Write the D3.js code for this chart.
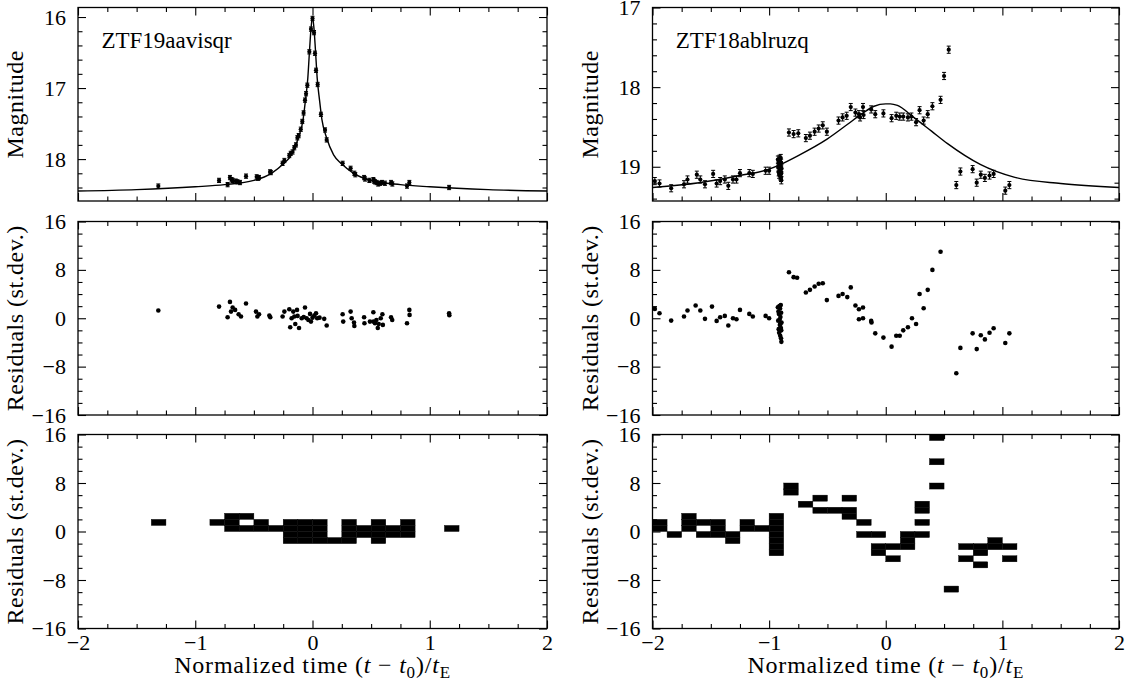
<!DOCTYPE html>
<html>
<head>
<meta charset="utf-8">
<script src="https://cdn.jsdelivr.net/npm/d3@7"></script>
<style>
  body { margin: 0; background: #fff; }
</style>
</head>
<body>
<div id="chart-area"></div>
<script>
// ---------------- data ----------------

let leftName = "ZTF19aavisqr";
let rightName = "ZTF18ablruzq";

let timeTicks = [-2, -1, 0, 1, 2];
let magTicksLeft = [16, 17, 18];
let magTicksRight = [17, 18, 19];
let resTicks = [-16, -8, 0, 8, 16];

// ZTF19aavisqr photometry
let leftT = [-1.315, -0.797, -0.724, -0.704, -0.69, -0.681, -0.655, -0.64, -0.618, -0.567,
  -0.476, -0.465, -0.456, -0.362, -0.355, -0.255, -0.24, -0.198, -0.186, -0.17,
  -0.155, -0.141, -0.129, -0.118, -0.1, -0.087, -0.076, -0.064, -0.055, -0.044,
  -0.027, -0.013, 0.0, 0.013, 0.021, 0.03, 0.044, 0.072, 0.107, 0.121,
  0.257, 0.325, 0.357, 0.365, 0.44, 0.448, 0.485, 0.519, 0.525, 0.533,
  0.547, 0.56, 0.576, 0.593, 0.618, 0.67, 0.681, 0.806, 0.826, 1.165];
let leftMag = [18.38, 18.30, 18.36, 18.26, 18.29, 18.30, 18.31, 18.32, 18.33, 18.24,
  18.25, 18.27, 18.26, 18.18, 18.19, 18.06, 18.02, 17.95, 17.92, 17.90,
  17.84, 17.80, 17.70, 17.67, 17.58, 17.47, 17.35, 17.17, 17.08, 16.96,
  16.49, 16.17, 16.02, 16.22, 16.51, 16.75, 16.95, 17.37, 17.59, 17.73,
  18.06, 18.13, 18.20, 18.22, 18.26, 18.28, 18.30, 18.29, 18.31, 18.32,
  18.33, 18.35, 18.34, 18.33, 18.34, 18.33, 18.35, 18.38, 18.33, 18.40];
let leftErr = 0.03;

// ZTF19aavisqr model curve
let leftModelT = [-2, -1.5, -1.0, -0.75, -0.5, -0.35, -0.25, -0.18, -0.12, -0.08, -0.06, -0.04, -0.025, -0.012, 0,
  0.012, 0.025, 0.04, 0.06, 0.08, 0.12, 0.18, 0.25, 0.35, 0.5, 0.75, 1.0, 1.5, 2];
let leftModelMag = [18.45, 18.43, 18.39, 18.36, 18.30, 18.20, 18.07, 17.94, 17.70, 17.44, 17.17, 16.86, 16.46, 16.15, 16.0,
  16.15, 16.46, 16.86, 17.17, 17.44, 17.70, 17.94, 18.07, 18.20, 18.30, 18.36, 18.39, 18.43, 18.45];

// ZTF19aavisqr residuals
let leftResT = [-1.315, -0.797, -0.724, -0.704, -0.695, -0.681, -0.66, -0.63, -0.61, -0.567,
  -0.482, -0.47, -0.456, -0.368, -0.36, -0.255, -0.24, -0.198, -0.19, -0.178,
  -0.164, -0.155, -0.147, -0.132, -0.127, -0.115, -0.092, -0.075, -0.064, -0.05,
  -0.035, -0.021, -0.013, 0.0, 0.015, 0.03, 0.04, 0.06, 0.1, 0.121,
  0.257, 0.262, 0.325, 0.334, 0.354, 0.357, 0.44, 0.443, 0.49, 0.519,
  0.52, 0.533, 0.545, 0.557, 0.565, 0.582, 0.596, 0.6, 0.67, 0.68,
  0.806, 0.826, 0.828, 1.165, 1.167];
let leftRes = [1.27, 1.93, 0.17, 2.7, 1.1, 1.77, 1.38, 0.66, 0.28, 2.43,
  1.1, 0.28, 0.66, 0.44, 0.17, 0.28, 1.1, 1.5, -1.5, 0.0,
  1.1, 0.28, -0.94, 1.38, 0.39, -1.6, 0.0, 0.2, 1.77, 0.0,
  -0.3, 0.72, -0.55, 0.1, 0.44, 0.83, 0.0, 0.1, -0.1, -1.2,
  0.66, -0.55, 1.1, 0.0, -0.72, -1.27, 0.17, -0.83, -0.55, 1.0,
  -0.55, -0.83, -0.28, -1.6, -0.94, 0.0, 0.66, -1.1, 0.17, -0.28,
  -0.83, 1.38, 0.55, 0.83, 0.5];

// ZTF19aavisqr binned residuals: bin start in time (width 0.125), bin start in residual (width 1)
let leftBinT = [-1.375, -0.875, -0.75, -0.75, -0.75, -0.625, -0.625, -0.5, -0.5, -0.375,
  -0.25, -0.25, -0.25, -0.25, -0.125, -0.125, -0.125, -0.125, 0, 0, 0, 0, 0.125,
  0.25, 0.25, 0.25, 0.25, 0.375, 0.375, 0.5, 0.5, 0.5, 0.5, 0.625, 0.625, 0.75, 0.75, 0.75, 1.125];
let leftBinR = [1, 1, 0, 1, 2, 0, 2, 0, 1, 0,
  -2, -1, 0, 1, -2, -1, 0, 1, -2, -1, 0, 1, -2,
  -2, -1, 0, 1, -1, 0, -2, -1, 0, 1, -1, 0, -1, 0, 1, 0];

// ZTF18ablruzq photometry
let rightT = [-1.98, -1.94, -1.84, -1.73, -1.70, -1.62, -1.59, -1.55, -1.48, -1.45,
  -1.42, -1.38, -1.35, -1.31, -1.28, -1.25, -1.17, -1.14, -1.03, -1.00,
  -0.925, -0.922, -0.92, -0.918, -0.916, -0.914, -0.912, -0.91, -0.908, -0.906,
  -0.905, -0.903, -0.902, -0.9, -0.899, -0.898, -0.897, -0.896, -0.895, -0.894,
  -0.83, -0.79, -0.75, -0.685, -0.65, -0.61, -0.575, -0.54, -0.505, -0.405,
  -0.37, -0.335, -0.30, -0.26, -0.23, -0.22, -0.195, -0.19, -0.125, -0.09, -0.02,
  0.05, 0.09, 0.12, 0.15, 0.19, 0.22, 0.26, 0.29, 0.325, 0.36,
  0.40, 0.47, 0.50, 0.54, 0.605, 0.64, 0.745, 0.78, 0.815, 0.85,
  0.89, 0.925, 1.025, 1.06];
let rightMag = [19.18, 19.21, 19.27, 19.22, 19.16, 19.10, 19.16, 19.22, 19.09, 19.21,
  19.18, 19.16, 19.24, 19.16, 19.16, 19.08, 19.08, 19.09, 19.05, 19.05,
  18.91, 19.01, 18.94, 19.07, 18.96, 19.10, 18.90, 19.00, 19.04, 18.92,
  19.12, 18.98, 19.03, 18.89, 19.06, 19.14, 18.95, 19.08, 19.17, 19.02,
  18.57, 18.59, 18.58, 18.64, 18.61, 18.56, 18.52, 18.48, 18.56, 18.42,
  18.38, 18.36, 18.25, 18.32, 18.34, 18.38, 18.25, 18.35, 18.28, 18.34, 18.33,
  18.39, 18.36, 18.37, 18.37, 18.38, 18.37, 18.44, 18.29, 18.42, 18.34,
  18.24, 18.16, 17.86, 17.53, 19.23, 19.06, 19.03, 19.20, 19.10, 19.14,
  19.11, 19.09, 19.30, 19.23];
let rightErr = 0.045;

// ZTF18ablruzq model curve
let rightModelT = [-2, -1.6, -1.25, -1.0, -0.9, -0.75, -0.5, -0.33, -0.2, -0.1, 0.0, 0.04, 0.1, 0.24, 0.39, 0.53, 0.81, 1.1, 1.5, 2.0];
let rightModelMag = [19.26, 19.20, 19.11, 19.03, 18.97, 18.86, 18.65, 18.47, 18.33, 18.24, 18.21, 18.21, 18.23, 18.38, 18.55, 18.71, 18.97, 19.13, 19.21, 19.26];

// ZTF18ablruzq residuals
let rightResT = [-1.98, -1.94, -1.84, -1.73, -1.70, -1.63, -1.59, -1.55, -1.49, -1.45,
  -1.42, -1.38, -1.35, -1.31, -1.28, -1.25, -1.17, -1.14, -1.03, -1.00,
  -0.925, -0.922, -0.92, -0.918, -0.916, -0.914, -0.912, -0.91, -0.908, -0.906,
  -0.905, -0.903, -0.902, -0.9, -0.899, -0.898, -0.897, -0.896, -0.895, -0.894,
  -0.83, -0.79, -0.76, -0.685, -0.65, -0.61, -0.575, -0.54, -0.505, -0.405,
  -0.37, -0.33, -0.30, -0.26, -0.23, -0.23, -0.195, -0.195, -0.125, -0.122, -0.09, -0.02,
  0.05, 0.09, 0.12, 0.15, 0.19, 0.225, 0.26, 0.29, 0.325, 0.36,
  0.40, 0.47, 0.605, 0.64, 0.745, 0.78, 0.815, 0.85, 0.89, 0.925,
  1.025, 1.06];
let rightRes = [1.55, 0.83, -0.39, 0.28, 1.27, 2.1, 1.27, -0.1, 1.93, -0.44,
  0.17, 0.39, -1.2, 0.0, -0.17, 1.38, 0.72, 0.28, 0.39, 0.0,
  1.8, -0.4, 1.1, -1.8, 0.7, -2.4, 2.0, -0.2, -1.1, 1.6,
  -2.9, 0.2, -0.9, 2.2, -1.6, -3.3, 0.9, -2.0, -3.9, -0.7,
  7.6, 6.8, 6.7, 4.25, 4.7, 5.25, 5.7, 5.8, 3.0, 3.7,
  4.0, 3.5, 5.1, 2.1, 1.5, -0.17, 1.77, 0.0, -0.44, -0.7, -2.5, -3.2,
  -4.7, -2.9, -2.9, -2.0, -1.5, 0.0, -0.94, 4.0, 1.66, 4.7,
  8.0, 11.0, -9.1, -4.9, -2.5, -5.1, -2.8, -3.5, -2.4, -1.66,
  -4.1, -2.5];

// ZTF18ablruzq binned residuals
let rightBinT = [-2, -2, -1.875, -1.75, -1.75, -1.75, -1.625, -1.625, -1.5, -1.5, -1.5,
  -1.375, -1.375, -1.25, -1.25, -1.125, -1, -1, -1, -1, -1, -1, -1,
  -0.875, -0.875, -0.75, -0.625, -0.625, -0.5, -0.375, -0.375, -0.375,
  -0.25, -0.25, -0.125, -0.125, -0.125, 0, 0, 0.125, 0.125, 0.125,
  0.25, 0.25, 0.25, 0.25, 0.375, 0.375, 0.375, 0.5, 0.625, 0.625,
  0.75, 0.75, 0.75, 0.875, 0.875, 1, 1];
let rightBinR = [0, 1, -1, 0, 1, 2, 1, -1, 1, 0, -1,
  -1, -2, 0, 1, 0, -4, -3, -2, -1, 0, 1, 2,
  6, 7, 4, 5, 3, 3, 5, 3, 2,
  1, -1, -1, -3, -4, -3, -5, -1, -2, -3,
  4, 3, 1, -1, 15, 11, 7, -10, -3, -5,
  -3, -4, -6, -2, -3, -3, -5];

let tBinWidth = 0.125;
let rBinWidth = 1;

// ---------------- layout ----------------

let serifFont = "'Liberation Serif'";
let fs = 22;       // tick labels
let fsTitle = 24;  // axis titles

let svg = d3.select("#chart-area")
  .append("svg")
  .attr("width", 1125)
  .attr("height", 690);

let colX = [[78, 547], [652.5, 1119]];
let rowY = [[7.5, 201], [221.5, 415], [434.5, 628.5]];

function makePanel(col, row) {
  let w = colX[col][1] - colX[col][0];
  let h = rowY[row][1] - rowY[row][0];
  let g = svg.append("g")
    .attr("transform", "translate(" + colX[col][0] + "," + rowY[row][0] + ")");
  let x = d3.scaleLinear().domain([-2, 2]).range([0, w]);
  return {g: g, w: w, h: h, x: x};
}

function minorOf(lo, hi, step, major) {
  return d3.range(lo, hi + step / 2, step)
    .map(v => +v.toFixed(4))
    .filter(v => major.indexOf(v) < 0);
}

function drawAxes(p, y, yMajor, yMinor, showX) {
  let g = p.g, w = p.w, h = p.h, x = p.x;
  let xMinor = minorOf(-2, 2, 0.25, timeTicks);
  let defs = [
    [d3.axisBottom(x).tickValues(timeTicks).tickSize(-8).tickPadding(6)
      .tickFormat(showX ? d3.format("d") : ""), "translate(0," + h + ")"],
    [d3.axisBottom(x).tickValues(xMinor).tickSize(-4.5).tickFormat(""), "translate(0," + h + ")"],
    [d3.axisTop(x).tickValues(timeTicks).tickSize(-8).tickFormat(""), null],
    [d3.axisTop(x).tickValues(xMinor).tickSize(-4.5).tickFormat(""), null],
    [d3.axisLeft(y).tickValues(yMajor).tickSize(-8).tickPadding(12).tickFormat(d3.format("d")), null],
    [d3.axisLeft(y).tickValues(yMinor).tickSize(-4.5).tickFormat(""), null],
    [d3.axisRight(y).tickValues(yMajor).tickSize(-8).tickFormat(""), "translate(" + w + ",0)"],
    [d3.axisRight(y).tickValues(yMinor).tickSize(-4.5).tickFormat(""), "translate(" + w + ",0)"]
  ];
  defs.forEach(function(d) {
    let a = g.append("g").call(d[0]);
    if (d[1]) a.attr("transform", d[1]);
    a.attr("font-family", "Liberation Serif").attr("font-size", fs);
    a.select(".domain").remove();
    a.selectAll(".tick line").attr("stroke", "#000").attr("stroke-width", 1.1);
    a.selectAll(".tick text")
      .attr("fill", "#000")
      .style("font-family", serifFont)
      .style("font-size", fs + "px");
  });
  g.append("rect")
    .attr("width", w)
    .attr("height", h)
    .attr("fill", "none")
    .attr("stroke", "#000")
    .attr("stroke-width", 1.3);
}

function yTitle(col, row, txt) {
  let yc = (rowY[row][0] + rowY[row][1]) / 2;
  svg.append("text")
    .attr("transform", "translate(" + (colX[col][0] - 55) + "," + yc + ") rotate(-90)")
    .attr("text-anchor", "middle")
    .style("font-family", serifFont)
    .style("font-size", fsTitle + "px")
    .style("letter-spacing", "0.5px")
    .text(txt);
}

function xTitle(col) {
  let xc = (colX[col][0] + colX[col][1]) / 2;
  let t = svg.append("text")
    .attr("x", xc)
    .attr("y", 673)
    .attr("text-anchor", "middle")
    .style("font-family", serifFont)
    .style("font-size", fsTitle + "px")
    .style("letter-spacing", "0.8px");
  t.append("tspan").text("Normalized time (");
  t.append("tspan").style("font-style", "italic").text("t");
  t.append("tspan").text(" \u2212 ");
  t.append("tspan").style("font-style", "italic").text("t");
  t.append("tspan").style("font-size", "17px").attr("dy", 5).text("0");
  t.append("tspan").attr("dy", -5).text(")/");
  t.append("tspan").style("font-style", "italic").text("t");
  t.append("tspan").style("font-size", "17px").attr("dy", 5).text("E");
}

function magPanel(col, name, ts, mags, err, modelT, modelMag, domain, major) {
  let p = makePanel(col, 0);
  let y = d3.scaleLinear().domain(domain).range([0, p.h]);
  let minor = minorOf(Math.ceil(domain[0] * 5) / 5, Math.floor(domain[1] * 5) / 5, 0.2, major);
  drawAxes(p, y, major, minor, false);

  let line = d3.line()
    .x((d, i) => p.x(modelT[i]))
    .y(d => y(d))
    .curve(d3.curveMonotoneX);
  p.g.append("path")
    .datum(modelMag)
    .attr("d", line)
    .attr("fill", "none")
    .attr("stroke", "#000")
    .attr("stroke-width", 1.4);

  let pts = ts.map((t, i) => ({t: t, m: mags[i]}));
  let eb = p.g.selectAll(".eb").data(pts).enter().append("g");
  eb.append("line")
    .attr("x1", d => p.x(d.t)).attr("x2", d => p.x(d.t))
    .attr("y1", d => y(d.m - err)).attr("y2", d => y(d.m + err))
    .attr("stroke", "#000").attr("stroke-width", 1);
  [-err, err].forEach(function(e) {
    eb.append("line")
      .attr("x1", d => p.x(d.t) - 2).attr("x2", d => p.x(d.t) + 2)
      .attr("y1", d => y(d.m + e)).attr("y2", d => y(d.m + e))
      .attr("stroke", "#000").attr("stroke-width", 1);
  });
  eb.append("circle")
    .attr("cx", d => p.x(d.t))
    .attr("cy", d => y(d.m))
    .attr("r", 2.1)
    .attr("fill", "#000");

  p.g.append("text")
    .attr("x", p.x(-1.8))
    .attr("y", 40)
    .style("font-family", serifFont)
    .style("font-size", "23px")
    .text(name);
}

function resPanel(col, ts, res) {
  let p = makePanel(col, 1);
  let y = d3.scaleLinear().domain([16, -16]).range([0, p.h]);
  drawAxes(p, y, resTicks, minorOf(-16, 16, 2, resTicks), false);
  p.g.selectAll(".pt")
    .data(ts.map((t, i) => ({t: t, r: res[i]})))
    .enter()
    .append("circle")
    .attr("cx", d => p.x(d.t))
    .attr("cy", d => y(d.r))
    .attr("r", 2.3)
    .attr("fill", "#000");
}

function binPanel(col, bt, br) {
  let p = makePanel(col, 2);
  let y = d3.scaleLinear().domain([16, -16]).range([0, p.h]);
  p.g.selectAll(".cell")
    .data(bt.map((t, i) => ({t: t, r: br[i]})))
    .enter()
    .append("rect")
    .attr("x", d => p.x(d.t))
    .attr("y", d => y(d.r + rBinWidth))
    .attr("width", d => p.x(d.t + tBinWidth) - p.x(d.t))
    .attr("height", d => y(d.r) - y(d.r + rBinWidth))
    .attr("fill", "#000")
    .attr("stroke", "#000")
    .attr("stroke-width", 0.4);
  drawAxes(p, y, resTicks, minorOf(-16, 16, 2, resTicks), true);
}

// left column
magPanel(0, leftName, leftT, leftMag, leftErr, leftModelT, leftModelMag, [15.866, 18.59], magTicksLeft);
resPanel(0, leftResT, leftRes);
binPanel(0, leftBinT, leftBinR);

// right column
magPanel(1, rightName, rightT, rightMag, rightErr, rightModelT, rightModelMag, [17.0, 19.43], magTicksRight);
resPanel(1, rightResT, rightRes);
binPanel(1, rightBinT, rightBinR);

// titles
[0, 1].forEach(function(c) {
  yTitle(c, 0, "Magnitude");
  yTitle(c, 1, "Residuals (st.dev.)");
  yTitle(c, 2, "Residuals (st.dev.)");
  xTitle(c);
});
</script>
</body>
</html>
